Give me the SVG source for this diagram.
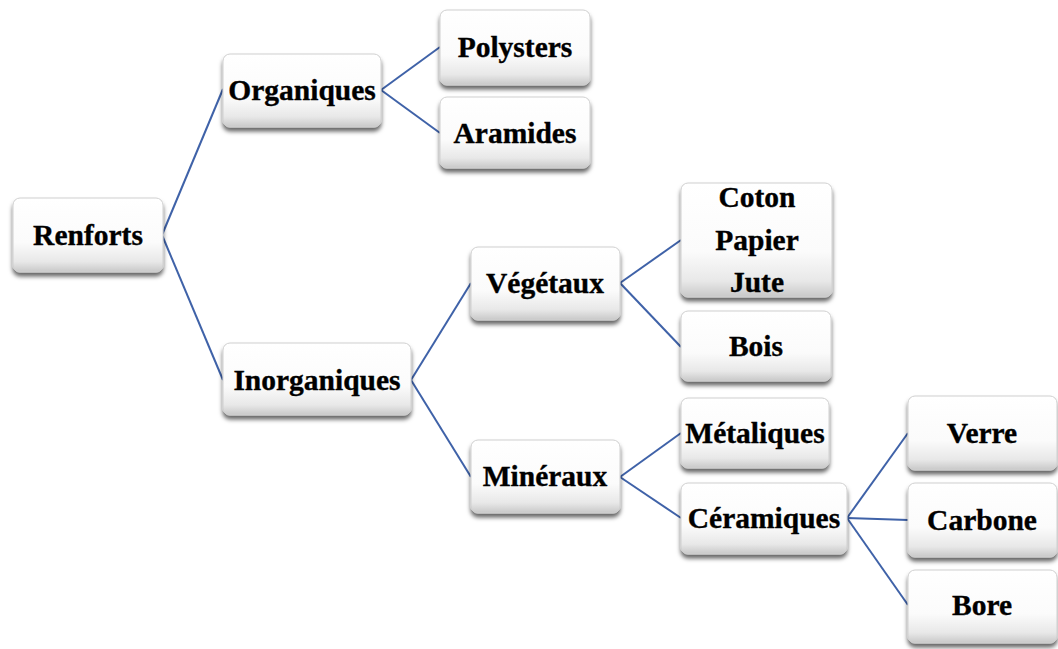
<svg xmlns="http://www.w3.org/2000/svg" width="1058" height="649" viewBox="0 0 1058 649">
<defs>
<linearGradient id="g" x1="0" y1="0" x2="0" y2="1">
<stop offset="0" stop-color="#ffffff"/>
<stop offset="0.6" stop-color="#fbfbfb"/>
<stop offset="0.86" stop-color="#e8e8e8"/>
<stop offset="1" stop-color="#c8c8c8"/>
</linearGradient>
<filter id="sh" x="-10%" y="-10%" width="120%" height="140%">
<feDropShadow dx="0" dy="4" stdDeviation="2.2" flood-color="#000" flood-opacity="0.6"/>
</filter>
</defs>
<style>
.box{fill:url(#g);stroke:#d0d0d0;stroke-width:1;filter:url(#sh)}
.t{font-family:"Liberation Serif","Times New Roman",serif;font-weight:bold;font-size:29.5px;fill:#000;stroke:#000;stroke-width:0.35;text-anchor:middle}
.c{stroke:#3f62a8;stroke-width:2;fill:none}
</style>
<rect width="1058" height="649" fill="#fff"/>
<g id="connectors">
<line class="c" x1="162" y1="235" x2="223" y2="89"/>
<line class="c" x1="162" y1="235" x2="223" y2="380"/>
<line class="c" x1="381" y1="90" x2="440" y2="47"/>
<line class="c" x1="381" y1="90" x2="440" y2="133"/>
<line class="c" x1="411" y1="380" x2="471" y2="283"/>
<line class="c" x1="411" y1="380" x2="471" y2="477"/>
<line class="c" x1="620" y1="283" x2="681" y2="240"/>
<line class="c" x1="620" y1="283" x2="681" y2="347"/>
<line class="c" x1="620" y1="477" x2="681" y2="433"/>
<line class="c" x1="620" y1="477" x2="681" y2="518"/>
<line class="c" x1="847" y1="518" x2="908" y2="433"/>
<line class="c" x1="847" y1="518" x2="908" y2="520"/>
<line class="c" x1="847" y1="518" x2="908" y2="605"/>
</g>
<g id="renforts"><rect class="box" x="13" y="198" width="150" height="74" rx="7"/><text class="t" x="88" y="245">Renforts</text></g>
<g id="organiques"><rect class="box" x="223" y="54" width="158" height="73" rx="7"/><text class="t" x="302" y="100">Organiques</text></g>
<g id="polysters"><rect class="box" x="440" y="10" width="150" height="75" rx="7"/><text class="t" x="515" y="57">Polysters</text></g>
<g id="aramides"><rect class="box" x="440" y="97" width="150" height="71" rx="7"/><text class="t" x="515" y="143">Aramides</text></g>
<g id="inorganiques"><rect class="box" x="223" y="343" width="188" height="72" rx="7"/><text class="t" x="317" y="390">Inorganiques</text></g>
<g id="vegetaux"><rect class="box" x="471" y="247" width="149" height="73" rx="7"/><text class="t" x="545" y="293">Végétaux</text></g>
<g id="mineraux"><rect class="box" x="471" y="440" width="149" height="73" rx="7"/><text class="t" x="545" y="486">Minéraux</text></g>
<g id="coton"><rect class="box" x="681" y="183" width="151" height="114" rx="7"/><text class="t" x="757" y="207">Coton</text><text class="t" x="757" y="250">Papier</text><text class="t" x="757" y="292">Jute</text></g>
<g id="bois"><rect class="box" x="681" y="311" width="150" height="70" rx="7"/><text class="t" x="756" y="356">Bois</text></g>
<g id="metaliques"><rect class="box" x="681" y="398" width="148" height="70" rx="7"/><text class="t" x="755" y="443">Métaliques</text></g>
<g id="ceramiques"><rect class="box" x="681" y="483" width="166" height="71" rx="7"/><text class="t" x="764" y="528">Céramiques</text></g>
<g id="verre"><rect class="box" x="908" y="396" width="149" height="74" rx="7"/><text class="t" x="982" y="443">Verre</text></g>
<g id="carbone"><rect class="box" x="908" y="483" width="149" height="74" rx="7"/><text class="t" x="982" y="530">Carbone</text></g>
<g id="bore"><rect class="box" x="908" y="570" width="149" height="73" rx="7"/><text class="t" x="982" y="615">Bore</text></g>
</svg>
